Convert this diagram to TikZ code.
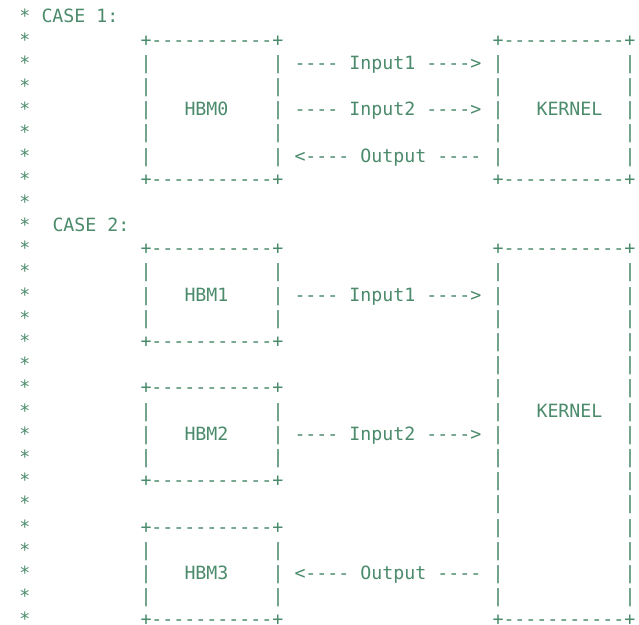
\documentclass[tikz,border=0pt]{standalone}
\usepackage{fontspec}
\setmonofont{DejaVu Sans Mono}
\usepackage{xcolor}
\usepackage{tikz}
\definecolor{commentgreen}{HTML}{4B8B6B}

% one text box of the ascii sketch: name, column, top row, bottom row
\newcommand{\asciibox}[4]{%
    \node[ascii] (#1-top) at (#2,#3) {+-----------+};
    \node[ascii] (#1-bot) at (#2,#4) {+-----------+};
    \pgfmathtruncatemacro\rowfirst{#3+1}
    \pgfmathtruncatemacro\rowlast{#4-1}
    \foreach \r in {\rowfirst,...,\rowlast} {
        \node[ascii] (#1-l\r) at (#2,\r) {|};
        \node[ascii] (#1-r\r) at (#2+12,\r) {|};
    }
}

\begin{document}
\begin{tikzpicture}[
    x=8.25pt, y=-17.39pt,
    ascii/.style={anchor=base west, inner sep=0pt, outer sep=0pt,
                  text=commentgreen,
                  font=\ttfamily\fontsize{13.7pt}{16pt}\selectfont}
]
    \useasboundingbox (-0.7727,-0.9884) rectangle (57.318,25.95);

    % comment stars down the left side
    \foreach \r in {0,...,26}
        \node[ascii] (star\r) at (1,\r) {*};

    % case 1
    \node[ascii] (case1) at (3,0) {CASE 1:};
    \asciibox{hbmzero}{12}{1}{7}
    \asciibox{kernelone}{44}{1}{7}
    \node[ascii] (hbm0) at (16,4) {HBM0};
    \node[ascii] (kernel1) at (48,4) {KERNEL};
    \node[ascii] (in1a) at (26,2) {---- Input1 ---->};
    \node[ascii] (in2a) at (26,4) {---- Input2 ---->};
    \node[ascii] (outa) at (26,6) {<---- Output ----};

    % case 2
    \node[ascii] (case2) at (4,9) {CASE 2:};
    \asciibox{hbmone}{12}{10}{14}
    \asciibox{hbmtwo}{12}{16}{20}
    \asciibox{hbmthree}{12}{22}{26}
    \asciibox{kerneltwo}{44}{10}{26}
    \node[ascii] (hbm1) at (16,12) {HBM1};
    \node[ascii] (hbm2) at (16,18) {HBM2};
    \node[ascii] (hbm3) at (16,24) {HBM3};
    \node[ascii] (kernel2) at (48,17) {KERNEL};
    \node[ascii] (in1b) at (26,12) {---- Input1 ---->};
    \node[ascii] (in2b) at (26,18) {---- Input2 ---->};
    \node[ascii] (outb) at (26,24) {<---- Output ----};
\end{tikzpicture}
\end{document}
